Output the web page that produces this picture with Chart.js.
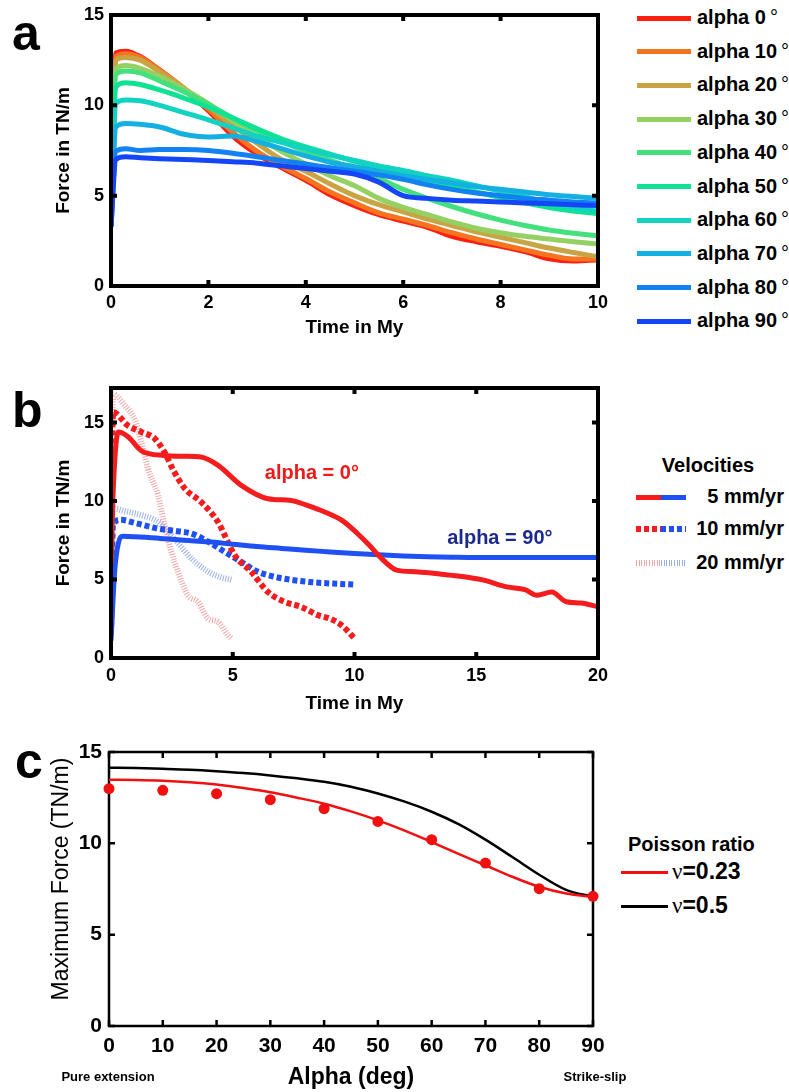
<!DOCTYPE html>
<html>
<head>
<meta charset="utf-8">
<title>Force evolution with obliquity</title>
<script src="https://cdn.jsdelivr.net/npm/chart.js@4.4.1/dist/chart.umd.min.js"></script>
<style>
  body { margin: 0; background: #fff; }
  #page { position: relative; width: 789px; height: 1092px; overflow: hidden; font-family: "Liberation Sans", Arial, sans-serif; color: #000; }
  canvas { position: absolute; left: 0; }
  .abs { position: absolute; white-space: nowrap; }
  .letter { font-weight: bold; font-size: 50px; line-height: 50px; }
  .leg { font-weight: bold; font-size: 20px; line-height: 20px; }
  .deg { font-weight: normal; margin-left: 4px; }
</style>
</head>
<body>
<div id="page">
  <canvas id="chartA" width="620" height="345" style="top:0px"></canvas>
  <canvas id="chartB" width="620" height="360" style="top:360px"></canvas>
  <canvas id="chartC" width="620" height="364" style="top:730px"></canvas>

  <div class="abs letter" style="left:12px;top:8px">a</div>
  <div class="abs letter" style="left:12px;top:385px">b</div>
  <div class="abs letter" style="left:15px;top:736px">c</div>

  <div id="legendA"></div>
  <div id="legendB"></div>
  <div id="legendC"></div>

  <div class="abs" style="left:-70px;top:866px;width:260px;height:26px;line-height:26px;font-size:23px;text-align:center;transform:rotate(-90deg)">Maximum Force (TN/m)</div>
  <div class="abs" style="left:48px;top:1069px;width:120px;text-align:center;font-weight:bold;font-size:13px;line-height:16px">Pure extension</div>
  <div class="abs" style="left:535px;top:1069px;width:120px;text-align:center;font-weight:bold;font-size:13px;line-height:16px">Strike-slip</div>
</div>

<script>
// ---- panel a : force vs time, 5 mm/yr, several obliquities ----
const TIME_A = [0, 0.1, 0.3, 0.6, 1, 1.5, 2, 2.5, 3, 3.5, 4, 4.5, 5, 5.5, 6, 6.5, 7, 7.5, 8, 8.5, 9, 9.5, 10];
const ALPHAS = [0, 10, 20, 30, 40, 50, 60, 70, 80, 90];
const ALPHA_COLORS = ['#ff1e10', '#f47420', '#c9a444', '#94d162', '#44e07e', '#10e294', '#12d2c2', '#14b0e2', '#1282f2', '#1446f8'];

const FORCE_A0  = [3.3, 12.9, 13.0, 12.7, 11.95, 10.9, 9.7, 8.3, 7.3, 6.55, 5.85, 5.05, 4.45, 3.95, 3.6, 3.25, 2.75, 2.45, 2.2, 1.9, 1.5, 1.38, 1.45];
const FORCE_A10 = [3.3, 12.7, 12.85, 12.65, 11.95, 10.95, 9.8, 8.5, 7.45, 6.65, 5.95, 5.2, 4.6, 4.05, 3.7, 3.35, 2.95, 2.6, 2.3, 2.0, 1.7, 1.5, 1.5];
const FORCE_A20 = [3.3, 12.5, 12.65, 12.5, 11.85, 10.95, 9.95, 8.9, 7.9, 7.0, 6.35, 5.65, 5.0, 4.5, 4.1, 3.7, 3.35, 3.0, 2.7, 2.4, 2.1, 1.85, 1.62];
const FORCE_A30 = [3.3, 12.0, 12.2, 12.05, 11.6, 10.9, 10.1, 9.15, 8.25, 7.45, 6.75, 6.1, 5.55, 4.85, 4.35, 3.95, 3.55, 3.2, 2.95, 2.75, 2.6, 2.45, 2.32];
const FORCE_A40 = [3.3, 11.7, 11.9, 11.8, 11.35, 10.75, 10.05, 9.3, 8.6, 8.0, 7.45, 6.95, 6.5, 5.95, 5.35, 4.85, 4.4, 4.0, 3.65, 3.35, 3.1, 2.92, 2.77];
const FORCE_A50 = [3.3, 11.0, 11.25, 11.15, 10.85, 10.4, 9.9, 9.3, 8.7, 8.15, 7.7, 7.3, 6.9, 6.55, 6.2, 5.85, 5.5, 5.2, 4.9, 4.6, 4.35, 4.15, 4.0];
const FORCE_A60 = [3.3, 10.1, 10.3, 10.25, 10.0, 9.6, 9.2, 8.75, 8.3, 7.95, 7.6, 7.25, 6.95, 6.65, 6.4, 6.1, 5.85, 5.55, 5.25, 4.95, 4.6, 4.35, 4.15];
const FORCE_A70 = [3.3, 8.8, 9.0, 8.95, 8.8, 8.4, 8.25, 8.3, 8.0, 7.6, 7.2, 6.85, 6.6, 6.35, 6.1, 5.9, 5.7, 5.5, 5.35, 5.2, 5.05, 4.95, 4.85];
const FORCE_A80 = [3.3, 7.45, 7.6, 7.5, 7.55, 7.55, 7.5, 7.35, 7.15, 6.95, 6.75, 6.55, 6.35, 6.15, 5.9, 5.6, 5.35, 5.15, 5.0, 4.85, 4.75, 4.65, 4.6];
const FORCE_A90 = [3.3, 7.0, 7.15, 7.1, 7.05, 7.0, 6.95, 6.88, 6.8, 6.65, 6.5, 6.35, 6.2, 5.75, 5.0, 4.85, 4.75, 4.7, 4.65, 4.6, 4.55, 4.5, 4.45];
const FORCE_A = [FORCE_A0, FORCE_A10, FORCE_A20, FORCE_A30, FORCE_A40, FORCE_A50, FORCE_A60, FORCE_A70, FORCE_A80, FORCE_A90];

// ---- panel b : force vs time for 3 velocities, alpha 0 and 90 ----
const V5_A0_T  = [0, 0.1, 0.3, 0.7, 1.25, 2.2, 3.0, 3.7, 4.4, 5.35, 6.45, 7.4, 8.0, 8.78, 9.5, 10.14, 10.6, 11.05, 11.73, 12.5, 13.9, 15.3, 16.25, 17.0, 17.5, 18.1, 18.7, 19.3, 20];
const V5_A0_F  = [6.0, 11.0, 14.4, 14.1, 13.2, 12.9, 12.85, 12.8, 12.27, 11.0, 10.15, 10.04, 9.75, 9.3, 8.75, 7.9, 7.2, 6.44, 5.6, 5.5, 5.28, 4.96, 4.53, 4.35, 4.0, 4.2, 3.58, 3.5, 3.26];
const V5_A90_T = [0, 0.15, 0.3, 0.49, 1, 2, 3, 4, 5, 6, 7, 8, 9, 10, 11, 12, 13, 14, 15, 16, 17, 18, 19, 20];
const V5_A90_F = [1.1, 5.5, 7.3, 7.75, 7.72, 7.62, 7.5, 7.4, 7.25, 7.1, 6.98, 6.86, 6.76, 6.66, 6.57, 6.5, 6.45, 6.42, 6.4, 6.4, 6.4, 6.4, 6.4, 6.4];
const V10_A0_T  = [0, 0.08, 0.7, 1.25, 1.8, 2.2, 2.6, 3.03, 3.7, 4.39, 5.08, 5.76, 6.45, 7.13, 7.8, 8.5, 9.0, 9.46, 10.0];
const V10_A0_F  = [5.0, 15.66, 14.8, 14.4, 13.97, 13.1, 11.85, 10.8, 9.94, 8.67, 6.55, 5.49, 4.2, 3.58, 3.26, 2.73, 2.5, 2.1, 1.25];
const V10_A90_T = [0, 0.08, 0.4, 1.0, 1.93, 2.6, 3.3, 4.0, 4.67, 5.35, 6.04, 6.72, 7.4, 8.09, 9.0, 10.0];
const V10_A90_F = [1.5, 8.5, 8.8, 8.6, 8.24, 8.1, 7.93, 7.4, 6.76, 6.12, 5.49, 5.17, 4.98, 4.85, 4.75, 4.68];
const V20_A0_T  = [0, 0.08, 0.56, 0.97, 1.25, 1.52, 1.93, 2.2, 2.48, 2.75, 3.16, 3.57, 3.98, 4.39, 4.8, 4.94];
const V20_A0_F  = [5.0, 16.8, 16.1, 15.2, 13.75, 12.06, 10.36, 8.46, 6.76, 5.49, 4.0, 3.58, 2.52, 2.3, 1.46, 1.25];
const V20_A90_T = [0, 0.08, 0.6, 1.25, 1.93, 2.6, 3.3, 4.0, 4.5, 5.0];
const V20_A90_F = [1.5, 9.52, 9.35, 9.1, 8.67, 7.6, 6.34, 5.49, 5.15, 4.96];
const VELOCITY_LABELS = ['5 mm/yr', '10 mm/yr', '20 mm/yr'];
const NOTES_B = [
  { text: 'alpha = 0°', x: 8.25, y: 11.76, color: '#f01818' },
  { text: 'alpha = 90°', x: 15.97, y: 7.63, color: '#1c2a8f' }
];

// ---- panel c : maximum force vs alpha ----
const ALPHA_DEG = [0, 10, 20, 30, 40, 50, 60, 70, 80, 90];
const MAX_FORCE_SIM = [12.99, 12.9, 12.72, 12.39, 11.9, 11.2, 10.2, 8.92, 7.52, 7.1];
const ALPHA_CURVE = [0, 5, 10, 15, 20, 25, 30, 35, 40, 45, 50, 55, 60, 65, 70, 75, 80, 85, 90];
const MAX_FORCE_NU023 = [13.48, 13.47, 13.43, 13.35, 13.22, 13.03, 12.8, 12.5, 12.17, 11.75, 11.26, 10.7, 10.07, 9.42, 8.8, 8.17, 7.62, 7.25, 7.07];
const MAX_FORCE_NU05  = [14.14, 14.12, 14.08, 14.03, 13.95, 13.85, 13.72, 13.56, 13.37, 13.1, 12.73, 12.28, 11.73, 11.05, 10.2, 9.25, 8.28, 7.45, 7.07];

const pts = (xs, ys) => xs.map((x, i) => ({ x: x, y: ys[i] }));

// box round the plot with inward ticks, plus text notes
const frameTicks = {
  id: 'frameTicks',
  beforeDatasetsDraw(chart, args, opts) { if (opts.under) drawFrame(chart, opts); },
  afterDatasetsDraw(chart, args, opts) {
    if (!opts.under) drawFrame(chart, opts);
    const { ctx, scales } = chart;
    (opts.notes || []).forEach(n => {
      ctx.save();
      ctx.font = 'bold 20px "Liberation Sans", Arial, sans-serif';
      ctx.fillStyle = n.color;
      ctx.textAlign = 'center';
      ctx.textBaseline = 'middle';
      ctx.fillText(n.text, scales.x.getPixelForValue(n.x), scales.y.getPixelForValue(n.y));
      ctx.restore();
    });
  }
};

function drawFrame(chart, opts) {
  const { ctx, chartArea: a, scales } = chart;
  const len = opts.tickLen;
  ctx.save();
  ctx.strokeStyle = '#000';
  ctx.lineWidth = opts.tickWidth;
  ctx.beginPath();
  scales.x.ticks.forEach(t => {
    const px = scales.x.getPixelForValue(t.value);
    ctx.moveTo(px, a.bottom); ctx.lineTo(px, a.bottom - len);
    ctx.moveTo(px, a.top); ctx.lineTo(px, a.top + len);
  });
  scales.y.ticks.forEach(t => {
    const py = scales.y.getPixelForValue(t.value);
    ctx.moveTo(a.left, py); ctx.lineTo(a.left + len, py);
    ctx.moveTo(a.right, py); ctx.lineTo(a.right - len, py);
  });
  ctx.stroke();
  ctx.lineWidth = opts.width;
  ctx.strokeRect(a.left, a.top, a.right - a.left, a.bottom - a.top);
  ctx.restore();
}

function makeOptions(c) {
  const tickFont = { size: c.tickSize, weight: 'bold' };
  const yScale = {
    type: 'linear', min: c.yMin, max: c.yMax,
    ticks: { stepSize: c.yStep, includeBounds: false, color: '#000', font: tickFont, padding: 7 },
    grid: { display: false, drawTicks: false },
    border: { display: false },
    afterFit(s) { s.width = c.yWidth; s.paddingTop = 0; s.paddingBottom = 0; }
  };
  if (c.yTitle) {
    yScale.title = { display: true, text: c.yTitle, color: '#000', font: { size: 19, weight: 'bold' }, padding: { top: c.yTitlePad, bottom: 0 } };
  }
  return {
    responsive: false,
    animation: false,
    devicePixelRatio: 1,
    layout: { padding: { top: c.padTop, right: c.padRight, left: 0, bottom: 0 } },
    scales: {
      x: {
        type: 'linear', min: c.xMin, max: c.xMax,
        ticks: { stepSize: c.xStep, includeBounds: false, color: '#000', font: tickFont, padding: c.xTickPad, maxRotation: 0 },
        grid: { display: false, drawTicks: false },
        border: { display: false },
        title: { display: true, text: c.xTitle, color: '#000', font: c.xTitleFont, padding: { top: 0, bottom: c.xTitlePad } },
        afterFit(s) { s.height = c.xHeight; s.paddingLeft = 0; s.paddingRight = 0; }
      },
      y: yScale
    },
    plugins: {
      legend: { display: false },
      tooltip: { enabled: false },
      frameTicks: { width: c.frameWidth, tickLen: 6, tickWidth: c.tickWidth, under: c.under, notes: c.notes }
    }
  };
}

Chart.register(frameTicks);
Chart.defaults.font.family = '"Liberation Sans", Arial, sans-serif';

// panel a
const dsA = ALPHAS.map((a, i) => ({
  label: 'alpha ' + a + '°',
  data: pts(TIME_A, FORCE_A[i]),
  borderColor: ALPHA_COLORS[i],
  borderWidth: 5,
  pointRadius: 0,
  cubicInterpolationMode: 'monotone',
  borderJoinStyle: 'round'
})).reverse();

new Chart(document.getElementById('chartA'), {
  type: 'line',
  data: { datasets: dsA },
  options: makeOptions({
    xMin: 0, xMax: 10, xStep: 2, yMin: 0, yMax: 15, yStep: 5,
    yWidth: 111, xHeight: 59, padTop: 15, padRight: 22,
    tickSize: 18, xTickPad: 6, xTitle: 'Time in My', xTitleFont: { size: 19, weight: 'bold' }, xTitlePad: 6,
    yTitle: 'Force in TN/m', yTitlePad: 52, frameWidth: 4, tickWidth: 4, under: false
  })
});

// panel b
const RED = '#f41c1c', BLUE = '#1f50f2';
const PALE_RED = 'rgba(226, 90, 90, 0.55)', PALE_BLUE = 'rgba(70, 110, 215, 0.55)';
const lineB = (label, xs, ys, color, width, dash) => ({
  label: label, data: pts(xs, ys), borderColor: color, borderWidth: width,
  borderDash: dash, pointRadius: 0, cubicInterpolationMode: 'monotone'
});
new Chart(document.getElementById('chartB'), {
  type: 'line',
  data: {
    datasets: [
      lineB('5 mm/yr alpha 0', V5_A0_T, V5_A0_F, RED, 5, []),
      lineB('5 mm/yr alpha 90', V5_A90_T, V5_A90_F, BLUE, 5, []),
      lineB('10 mm/yr alpha 0', V10_A0_T, V10_A0_F, RED, 6, [5, 3]),
      lineB('10 mm/yr alpha 90', V10_A90_T, V10_A90_F, BLUE, 6, [5, 3]),
      lineB('20 mm/yr alpha 0', V20_A0_T, V20_A0_F, PALE_RED, 6, [1, 1.6]),
      lineB('20 mm/yr alpha 90', V20_A90_T, V20_A90_F, PALE_BLUE, 6, [1, 1.6])
    ]
  },
  options: makeOptions({
    xMin: 0, xMax: 20, xStep: 5, yMin: 0, yMax: 17.2, yStep: 5,
    yWidth: 111, xHeight: 62, padTop: 28, padRight: 22,
    tickSize: 18, xTickPad: 7, xTitle: 'Time in My', xTitleFont: { size: 19, weight: 'bold' }, xTitlePad: 5,
    yTitle: 'Force in TN/m', yTitlePad: 52, frameWidth: 4, tickWidth: 4, under: false, notes: NOTES_B
  })
});

// panel c
new Chart(document.getElementById('chartC'), {
  type: 'line',
  data: {
    datasets: [
      { label: 'simulations', data: pts(ALPHA_DEG, MAX_FORCE_SIM), showLine: false, pointRadius: 5.5,
        pointBackgroundColor: '#f01010', pointBorderWidth: 0, borderColor: '#f01010', clip: false },
      { label: 'ν=0.23', data: pts(ALPHA_CURVE, MAX_FORCE_NU023), borderColor: '#f01010', borderWidth: 2.5,
        pointRadius: 0, cubicInterpolationMode: 'monotone' },
      { label: 'ν=0.5', data: pts(ALPHA_CURVE, MAX_FORCE_NU05), borderColor: '#000', borderWidth: 2.5,
        pointRadius: 0, cubicInterpolationMode: 'monotone' }
    ]
  },
  options: makeOptions({
    xMin: 0, xMax: 90, xStep: 10, yMin: 0, yMax: 15, yStep: 5,
    yWidth: 109, xHeight: 68, padTop: 22, padRight: 27,
    tickSize: 21, xTickPad: 8,
    xTitle: 'Alpha (deg)', xTitleFont: { size: 23, weight: 'bold' }, xTitlePad: 3,
    frameWidth: 2.5, tickWidth: 2.5, under: true
  })
});

// legends
function addDiv(parent, css, html) {
  const d = document.createElement('div');
  d.className = 'abs';
  d.style.cssText = css;
  if (html !== undefined) d.innerHTML = html;
  parent.appendChild(d);
  return d;
}

const legA = document.getElementById('legendA');
ALPHAS.forEach((a, i) => {
  const y = 18 + i * 33.7;
  addDiv(legA, `left:637px;top:${y - 2.5}px;width:54px;height:5px;background:${ALPHA_COLORS[i]}`);
  addDiv(legA, `left:697px;top:${y - 11}px`, `<span class="leg">alpha ${a}<span class="deg">°</span></span>`);
});

const legB = document.getElementById('legendB');
addDiv(legB, 'left:658px;top:455px;width:100px;text-align:center', '<span class="leg">Velocities</span>');
const swB = [
  [`background:${RED}`, `background:${BLUE}`, 5],
  [`background:repeating-linear-gradient(90deg, ${RED} 0 5px, transparent 5px 8px)`, `background:repeating-linear-gradient(90deg, ${BLUE} 0 5px, transparent 5px 8px)`, 6],
  [`background:repeating-linear-gradient(90deg, ${PALE_RED} 0 1px, transparent 1px 2.6px)`, `background:repeating-linear-gradient(90deg, ${PALE_BLUE} 0 1px, transparent 1px 2.6px)`, 6]
];
[497, 529, 563].forEach((y, i) => {
  const h = swB[i][2];
  addDiv(legB, `left:636px;top:${y - h / 2}px;width:25px;height:${h}px;${swB[i][0]}`);
  addDiv(legB, `left:661px;top:${y - h / 2}px;width:25px;height:${h}px;${swB[i][1]}`);
  addDiv(legB, `right:5px;top:${y - 11}px`, `<span class="leg">${VELOCITY_LABELS[i]}</span>`);
});

const legC = document.getElementById('legendC');
addDiv(legC, 'left:628px;top:834px', '<span class="leg">Poisson ratio</span>');
[['#f01010', '0.23', 872], ['#000', '0.5', 906]].forEach(([col, nu, y]) => {
  addDiv(legC, `left:621px;top:${y - 1.5}px;width:47px;height:3px;background:${col}`);
  addDiv(legC, `left:672px;top:${y - 13}px;font-size:23px;line-height:24px`,
    `<span style="font-family:'Liberation Serif',serif">ν</span><b>=${nu}</b>`);
});
</script>
</body>
</html>
